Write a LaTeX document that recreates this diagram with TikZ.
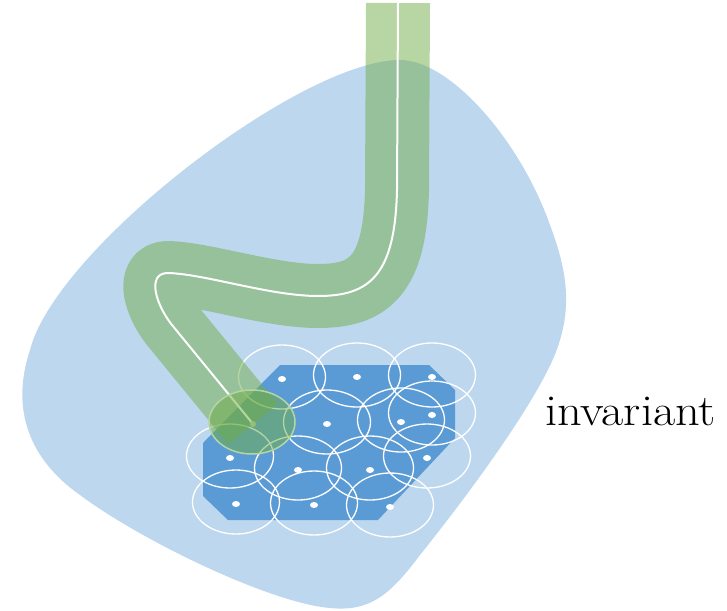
\documentclass[tikz,border=0pt]{standalone}
\definecolor{regionblue}{HTML}{BDD7EE}
\definecolor{cellblue}{HTML}{5B9BD5}
\definecolor{pathgreen}{HTML}{70AD47}
\definecolor{ringgreen}{HTML}{B5D6A0}
\begin{document}
\begin{tikzpicture}[x=1pt,y=-1pt,
  invregion/.style={fill=regionblue},
  cellset/.style={fill=cellblue},
  coverring/.style={draw=white,line width=1.3pt},
  seeddot/.style={fill=white},
  tubeband/.style={draw=pathgreen,draw opacity=0.5,line width=64pt,line join=round,line cap=butt},
  tubecore/.style={draw=white,line width=2pt},
  startball/.style={fill=pathgreen,fill opacity=0.5,draw=ringgreen,line width=1.5pt}]
\useasboundingbox (0,0) rectangle (727,610);

% invariant region
\fill[invregion] (400,60) .. controls (450,60) and (520,140) .. (550,225)
  .. controls (565,265) and (572,300) .. (560,340)
  .. controls (548,385) and (480,480) .. (420,555)
  .. controls (390,595) and (370,612) .. (330,608)
  .. controls (270,603) and (140,540) .. (80,495)
  .. controls (30,460) and (10,410) .. (30,350)
  .. controls (55,250) and (300,60) .. (400,60) -- cycle;

% covered set
\fill[cellset] (280,365) -- (429,365) -- (455,390) -- (455,438) -- (378,520)
  -- (228,520) -- (203,496) -- (203,443) -- cycle;

% covering balls and their centres
\foreach \cx/\cy in {282/377,357/375,432/375,
                     327/422,401/420,432/413,
                     230/456,298/468,370/468,427/456,
                     236/502,314/503,390/505}{
  \draw[coverring] (\cx,\cy) ellipse [x radius=43.5,y radius=32];
  \fill[seeddot] (\cx,\cy+2) ellipse [x radius=4,y radius=3];
}

% trajectory tube and its centre line
\draw[tubeband] (398,3) -- (397,190) .. controls (395,275) and (370,296) .. (318,296)
  .. controls (270,296) and (205,274) .. (168,273)
  .. controls (146,273) and (156,305) .. (172,325) -- (253,424);
\draw[tubecore] (398,3) -- (397,190) .. controls (395,275) and (370,296) .. (318,296)
  .. controls (270,296) and (205,274) .. (168,273)
  .. controls (146,273) and (156,305) .. (172,325) -- (253,424);
\fill[ringgreen] (253,424) circle [radius=3];

% initial ball
\path[startball] (252,422) ellipse [x radius=43,y radius=32];

\node[anchor=base west,inner sep=0pt] (label) at (545,425)
  {\scalebox{1.1}[1]{\fontsize{44}{52}\selectfont invariant}};
\end{tikzpicture}
\end{document}
